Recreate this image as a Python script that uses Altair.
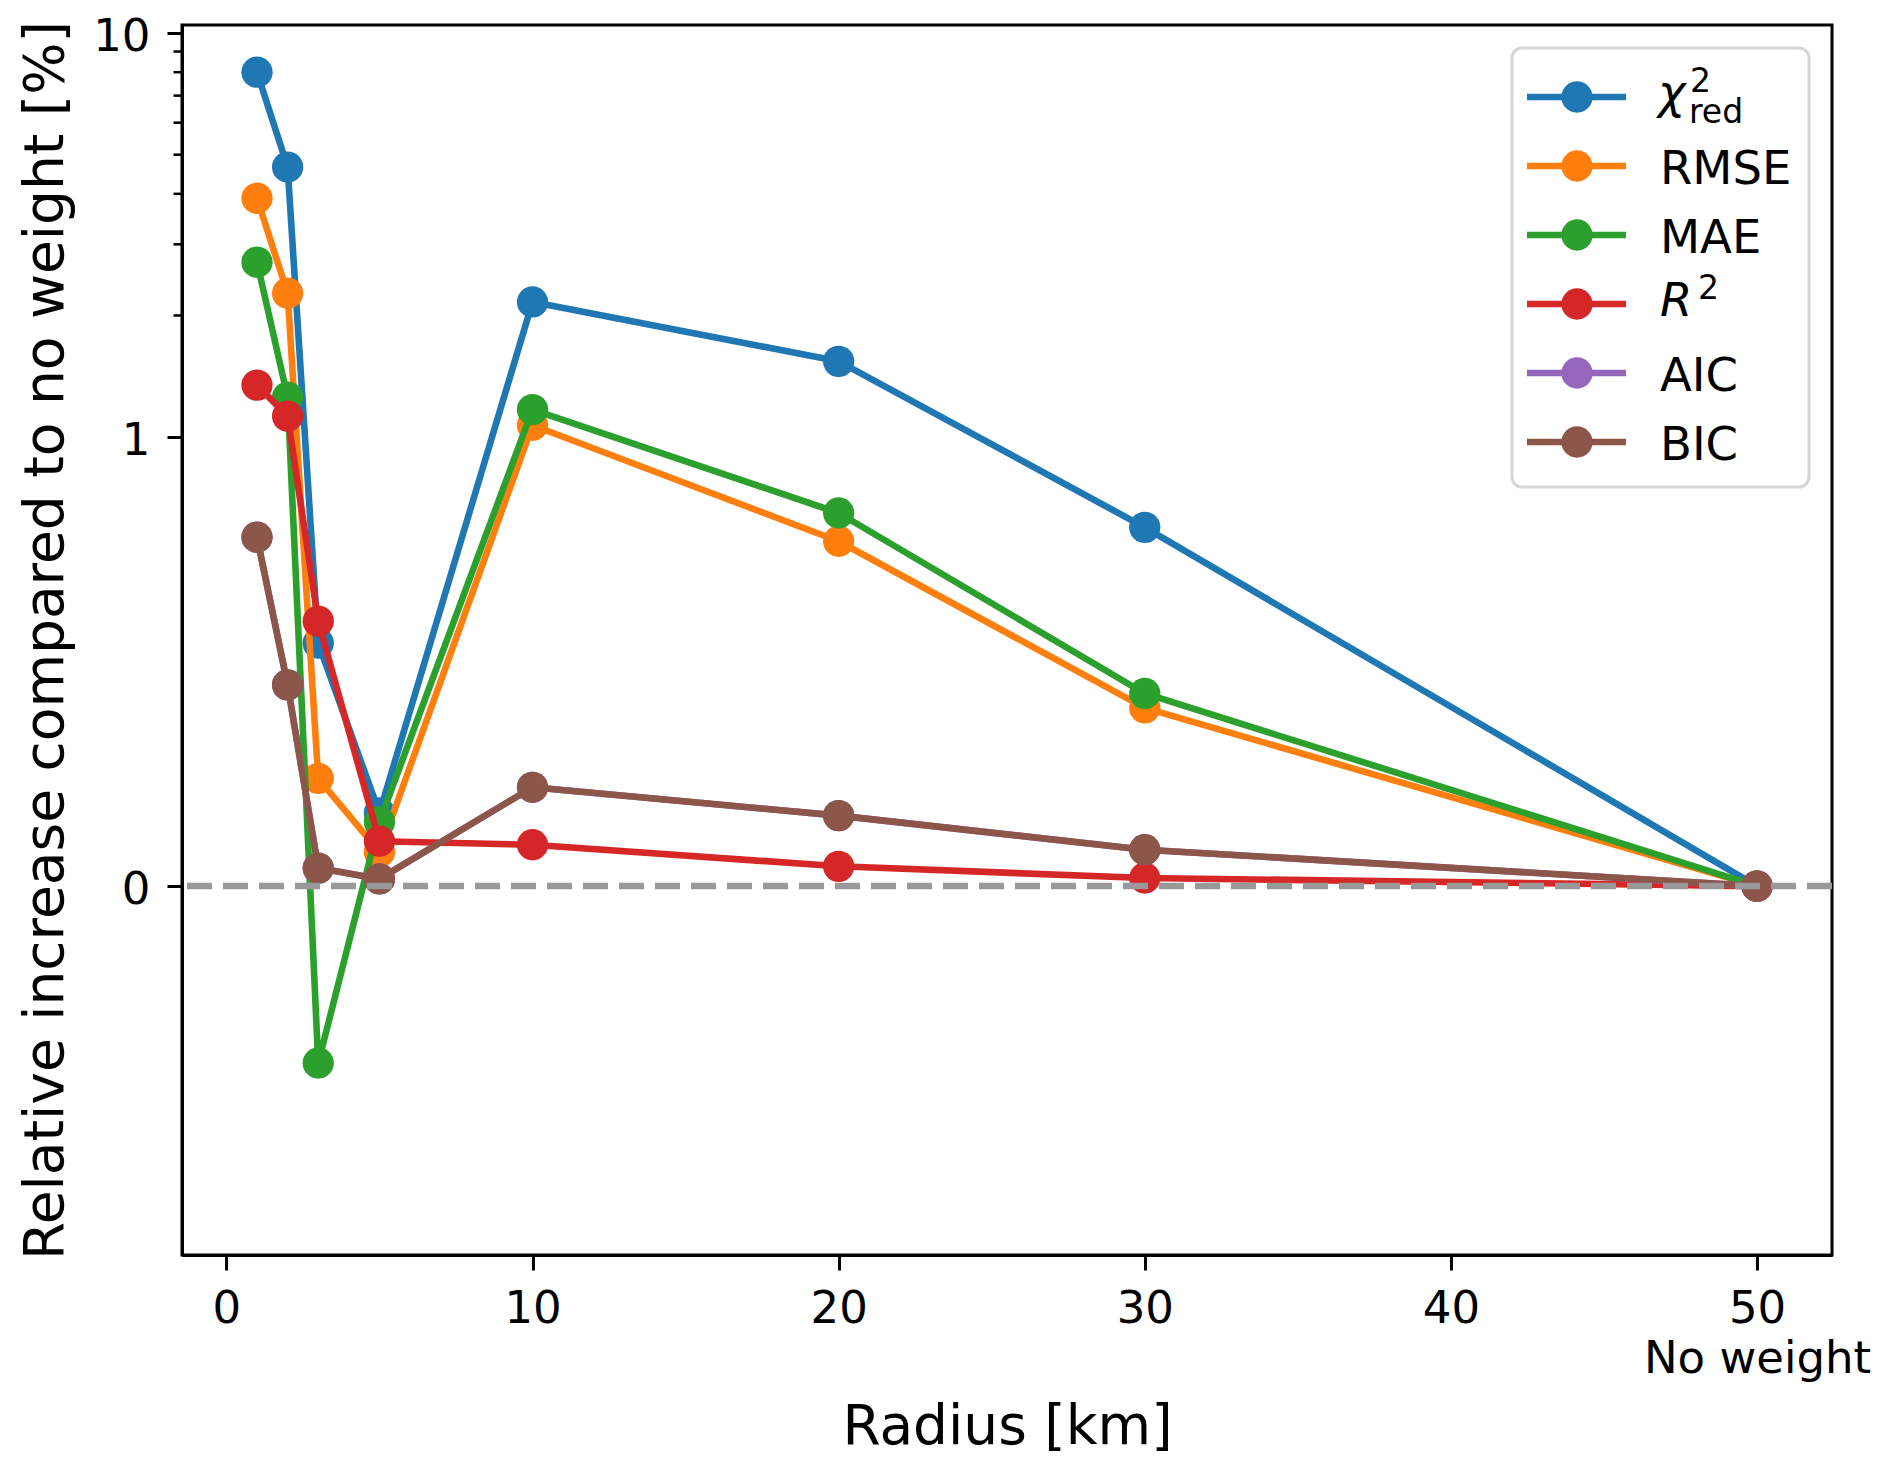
import math
import altair as alt
import pandas as pd

# ---------------- data ----------------
radius = [1, 2, 3, 5, 10, 20, 30, 50]
chi2_red = [8.0, 4.66, 0.541, 0.163, 2.16, 1.54, 0.799, 0.0]
rmse = [3.9, 2.27, 0.240, 0.076, 1.07, 0.768, 0.397, 0.0]
mae = [2.71, 1.256, -0.394, 0.143, 1.17, 0.831, 0.429, 0.0]
r2 = [1.345, 1.127, 0.590, 0.100, 0.092, 0.044, 0.018, 0.0]
aic = [0.777, 0.448, 0.040, 0.016, 0.220, 0.157, 0.081, 0.0]
bic = [0.777, 0.448, 0.040, 0.016, 0.220, 0.157, 0.081, 0.0]

metrics = ["chi2_red", "RMSE", "MAE", "R2", "AIC", "BIC"]
series = [chi2_red, rmse, mae, r2, aic, bic]
colors = ["#1f77b4", "#ff7f0e", "#2ca02c", "#d62728", "#9467bd", "#8c564b"]

x_ticks = [0, 10, 20, 30, 40, 50]
y_ticks = [0, 1, 10]
y_minor = [2, 3, 4, 5, 6, 7, 8, 9]

FONT = "DejaVu Sans"
LW = 6.6
TICK_FS = 45
TITLE_FS = 55
LEG_FS = 46.5
SUB_FS = 33

# matplotlib-style symlog (base 10, linthresh 1, linscale 1)
SYMLOG = ("abs(datum.value) <= 1 ? datum.value / 0.9 : "
          "(datum.value < 0 ? -1 : 1) * (1 / 0.9 + log(abs(datum.value)) / LN10)")


def sym(v):
    if abs(v) <= 1:
        return v / 0.9
    return math.copysign(1 / 0.9 + math.log10(abs(v)), v)


rows = []
for m, vals in zip(metrics, series):
    for r, v in zip(radius, vals):
        rows.append({"metric": m, "radius": r, "value": v})
df = pd.DataFrame(rows)

xscale = alt.Scale(domain=[-1.45, 52.45], nice=False, zero=False)
yscale = alt.Scale(domain=[-0.913, 2.131], nice=False, zero=False)
cscale = alt.Scale(domain=metrics, range=colors)

xaxis = alt.Axis(
    values=x_ticks,
    labelExpr="datum.value == 50 ? ['50', 'No weight'] : datum.label",
    labelFont=FONT, labelFontSize=TICK_FS, labelColor="black",
    labelPadding=16, labelLineHeight=50, labelOverlap=False, labelLimit=500,
    tickSize=15, tickWidth=3, tickColor="black",
    domainColor="black", domainWidth=3, grid=False,
    title="Radius [km]", titleFont=FONT, titleFontSize=TITLE_FS,
    titleFontWeight="normal", titleColor="black",
    titleX=825, titleY=188, titleBaseline="alphabetic", titleAlign="center",
)
yaxis = alt.Axis(
    values=[sym(v) for v in y_ticks],
    labelExpr="datum.value < 0.5 ? '0' : (datum.value < 1.6 ? '1' : '10')",
    labelFont=FONT, labelFontSize=TICK_FS, labelColor="black",
    labelPadding=17, labelBaseline="alphabetic", labelOffset=17,
    labelOverlap=False,
    tickSize=15, tickWidth=3, tickColor="black",
    domainColor="black", domainWidth=3, grid=False,
    title="Relative increase compared to no weight [%]", titleFont=FONT,
    titleFontSize=TITLE_FS, titleFontWeight="normal", titleColor="black",
    titleX=-120, titleY=615, titleAngle=270,
    titleBaseline="alphabetic", titleAlign="center",
)

base = alt.Chart(df).transform_calculate(u=SYMLOG)
data_layers = []
for m in metrics:
    b = base.transform_filter(alt.datum.metric == m)
    enc = dict(
        x=alt.X("radius:Q", scale=xscale, axis=xaxis),
        y=alt.Y("u:Q", scale=yscale, axis=yaxis),
        color=alt.Color("metric:N", scale=cscale, legend=None),
    )
    data_layers.append(b.mark_line(strokeWidth=LW, strokeJoin="round").encode(**enc))
    data_layers.append(b.mark_circle(size=980, opacity=1).encode(**enc))

minor = (
    alt.Chart(pd.DataFrame({"value": y_minor}))
    .transform_calculate(u=SYMLOG)
    .mark_rule(color="black", strokeWidth=2.5)
    .encode(y=alt.Y("u:Q", scale=yscale, axis=yaxis), x=alt.value(-8.5), x2=alt.value(0))
)
zero = (
    alt.Chart(pd.DataFrame({"value": [0.0]}))
    .transform_calculate(u=SYMLOG)
    .mark_rule(color="#999999", strokeWidth=6.5, strokeDash=[25, 11])
    .encode(y=alt.Y("u:Q", scale=yscale, axis=yaxis))
)

data_group = alt.layer(*data_layers, minor, zero)

# ---------------- legend ----------------
leg = pd.DataFrame({"metric": metrics, "row": list(range(len(metrics)))})
lb = alt.Chart(leg)
ly = alt.Y("row:Q", scale=alt.Scale(domain=[0, 5], range=[72, 417]), axis=None)
lc = alt.Color("metric:N", scale=cscale, legend=None)

box = (
    alt.Chart(pd.DataFrame({"k": [0]}))
    .mark_rect(cornerRadius=10, fill="white", fillOpacity=0.8, stroke="#d6d6d6", strokeWidth=3)
    .encode(x=alt.value(1330), x2=alt.value(1627), y=alt.value(23), y2=alt.value(462))
)
leg_lines = lb.mark_rule(strokeWidth=LW).encode(x=alt.value(1345), x2=alt.value(1444), y=ly, color=lc)
leg_dots = lb.mark_circle(size=980, opacity=1).encode(x=alt.value(1395), y=ly, color=lc)

plain = (
    lb.transform_filter(alt.FieldOneOfPredicate(field="metric", oneOf=["RMSE", "MAE", "AIC", "BIC"]))
    .mark_text(align="left", baseline="alphabetic", dy=18, fontSize=LEG_FS, font=FONT, color="black")
    .encode(x=alt.value(1478), y=ly, text="metric:N")
)
chi_main = (
    lb.transform_filter(alt.datum.metric == "chi2_red")
    .mark_text(align="left", baseline="alphabetic", dy=11, fontSize=LEG_FS, font=FONT,
               fontStyle="italic", color="black", text="χ")
    .encode(x=alt.value(1476), y=ly)
)
chi_sup = (
    lb.transform_filter(alt.datum.metric == "chi2_red")
    .mark_text(align="left", baseline="alphabetic", dy=-5, fontSize=SUB_FS, font=FONT,
               color="black", text="2")
    .encode(x=alt.value(1508), y=ly)
)
chi_sub = (
    lb.transform_filter(alt.datum.metric == "chi2_red")
    .mark_text(align="left", baseline="alphabetic", dy=26, fontSize=SUB_FS, font=FONT,
               color="black", text="red")
    .encode(x=alt.value(1507), y=ly)
)
r_main = (
    lb.transform_filter(alt.datum.metric == "R2")
    .mark_text(align="left", baseline="alphabetic", dy=12, fontSize=LEG_FS, font=FONT,
               fontStyle="italic", color="black", text="R")
    .encode(x=alt.value(1478), y=ly)
)
r_sup = (
    lb.transform_filter(alt.datum.metric == "R2")
    .mark_text(align="left", baseline="alphabetic", dy=-5, fontSize=SUB_FS, font=FONT,
               color="black", text="2")
    .encode(x=alt.value(1516), y=ly)
)

legend_group = alt.layer(box, leg_lines, leg_dots, plain, chi_main, chi_sup, chi_sub, r_main, r_sup)

chart = (
    alt.layer(data_group, legend_group)
    .resolve_scale(y="independent")
    .properties(
        width=1650,
        height=1230,
        padding={"left": 174, "top": 17, "right": 52, "bottom": 200},
        autosize=alt.AutoSizeParams(type="none"),
        background="white",
    )
    .configure(font=FONT)
    .configure_view(stroke="black", strokeWidth=3)
)

chart.save("out.html", embed_options={"renderer": "svg", "actions": False})
